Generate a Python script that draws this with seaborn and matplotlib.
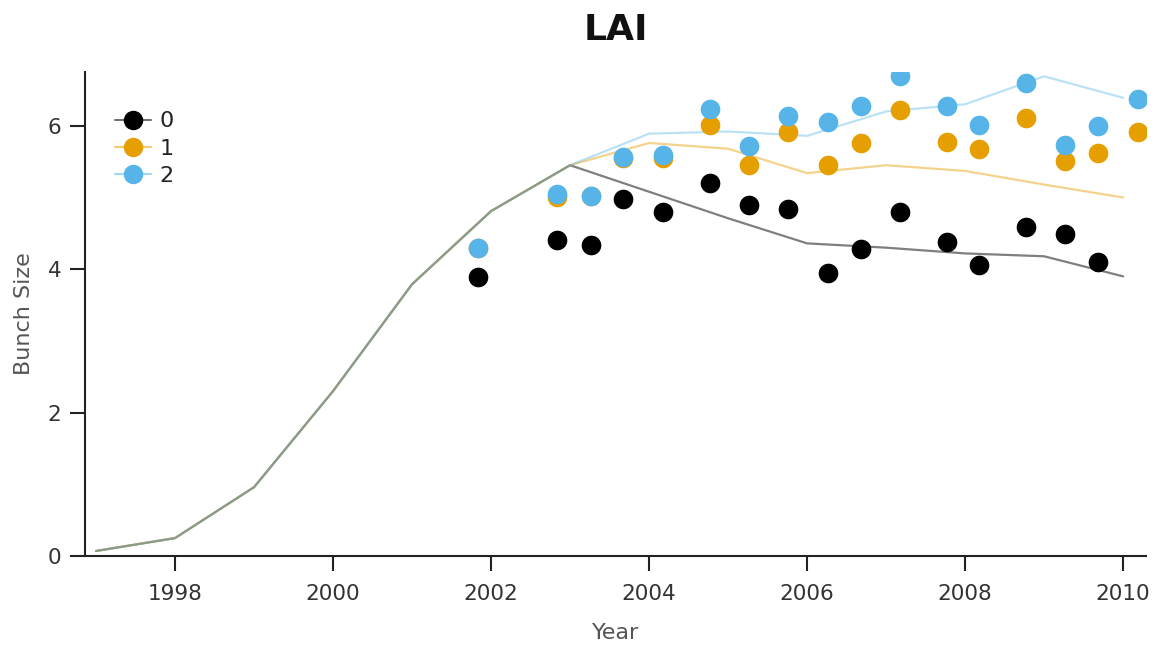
import numpy as np
import pandas as pd
import matplotlib
matplotlib.use("Agg")
import matplotlib.pyplot as plt
from matplotlib.colors import to_rgba
from matplotlib.lines import Line2D
import seaborn as sns

# Simulated LAI-driven bunch size, one value per year, for three treatments
years = [1997, 1998, 1999, 2000, 2001, 2002, 2003, 2004, 2005, 2006, 2007, 2008, 2009, 2010]
sim_0 = [0.07, 0.25, 0.96, 2.30, 3.79, 4.81, 5.45, 5.08, 4.71, 4.36, 4.30, 4.22, 4.18, 3.90]
sim_1 = [0.07, 0.25, 0.96, 2.30, 3.79, 4.81, 5.45, 5.76, 5.68, 5.34, 5.45, 5.37, 5.18, 5.00]
sim_2 = [0.07, 0.25, 0.96, 2.30, 3.79, 4.81, 5.45, 5.89, 5.92, 5.86, 6.20, 6.30, 6.69, 6.39]

# Observed values (decimal year of sampling)
obs_dates = [2001.84, 2002.84, 2003.26, 2003.67, 2004.17, 2004.77, 2005.26, 2005.76,
             2006.26, 2006.68, 2007.17, 2007.77, 2008.17, 2008.77, 2009.26, 2009.68, 2010.19]
obs_0 = [3.89, 4.41, 4.34, 4.98, 4.80, 5.20, 4.90, 4.84,
         3.95, 4.28, 4.80, 4.38, 4.06, 4.59, 4.49, 4.10, np.nan]
obs_1 = [4.30, 5.00, 5.02, 5.55, 5.55, 6.01, 5.45, 5.91,
         5.45, 5.76, 6.22, 5.77, 5.68, 6.11, 5.51, 5.62, 5.91]
obs_2 = [4.30, 5.05, 5.02, 5.56, 5.59, 6.23, 5.72, 6.14,
         6.05, 6.28, 6.69, 6.28, 6.01, 6.60, 5.73, 6.00, 6.37]

series = ["0", "1", "2"]
colors = {"0": "#000000", "1": "#E69F00", "2": "#56B4E9"}
line_alpha = {"0": 0.5, "1": 0.45, "2": 0.4}

sim = pd.DataFrame({
    "Year": years * 3,
    "Bunch Size": sim_0 + sim_1 + sim_2,
    "Treatment": [s for s in series for _ in years],
})
obs = pd.DataFrame({
    "Year": obs_dates * 3,
    "Bunch Size": obs_0 + obs_1 + obs_2,
    "Treatment": [s for s in series for _ in obs_dates],
}).dropna()

sns.set_theme(style="ticks")
plt.rcParams["font.family"] = ["DejaVu Sans"]

fig = plt.figure(figsize=(11.6, 6.5), dpi=100)
ax = fig.add_axes([85 / 1160, 1 - 556 / 650, (1146 - 85) / 1160, (556 - 72) / 650])

for s in series:
    sns.lineplot(data=sim[sim["Treatment"] == s], x="Year", y="Bunch Size",
                 color=colors[s], alpha=line_alpha[s], linewidth=1.6,
                 ax=ax, legend=False, zorder=2)

for s in series:
    sns.scatterplot(data=obs[obs["Treatment"] == s], x="Year", y="Bunch Size",
                    color=colors[s], s=200, linewidth=0, ax=ax,
                    legend=False, zorder=3)

ax.set_xlim(1996.86, 2010.29)
ax.set_ylim(0, 6.75)
ax.set_xticks([1998, 2000, 2002, 2004, 2006, 2008, 2010])
ax.set_yticks([0, 2, 4, 6])
ax.xaxis.set_major_formatter(matplotlib.ticker.FormatStrFormatter("%d"))

sns.despine(ax=ax)
for side in ("left", "bottom"):
    ax.spines[side].set_linewidth(1.5)
    ax.spines[side].set_color("#222222")
ax.tick_params(axis="both", direction="out", length=11, width=1.5,
               color="#222222", labelsize=15.5, labelcolor="#333333")
ax.tick_params(axis="x", pad=9)
ax.tick_params(axis="y", pad=6)

ax.set_xlabel("Year", fontsize=16, color="#555555", labelpad=14)
ax.set_ylabel("Bunch Size", fontsize=16, color="#555555", labelpad=10)
ax.set_title("LAI", fontsize=26, fontweight="bold", color="#111111", pad=23)

# Legend entries: faint line through a solid marker
handles = [Line2D([0], [0], color=to_rgba(colors[s], 0.55), marker="o",
                  markersize=14, markerfacecolor=colors[s],
                  markeredgewidth=0, linewidth=1.5)
           for s in series]
leg = ax.legend(handles, series, loc="upper left", bbox_to_anchor=(0.02, 0.937),
                frameon=False, fontsize=16, handlelength=1.6, handletextpad=0.4,
                labelspacing=0.33, borderaxespad=0)
for t in leg.get_texts():
    t.set_color("#222222")

fig.savefig("out.png", dpi=100)
